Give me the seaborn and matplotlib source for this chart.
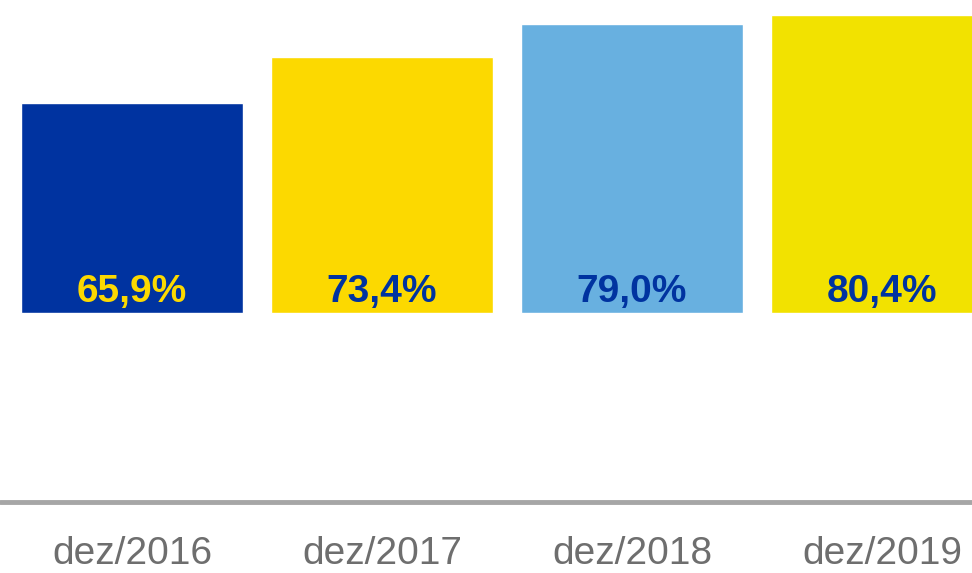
import numpy as np
import pandas as pd
import matplotlib
matplotlib.use("Agg")
import matplotlib.pyplot as plt
import seaborn as sns

# data
periods = ["dez/2016", "dez/2017", "dez/2018", "dez/2019"]
values = [65.9, 73.4, 79.0, 80.4]
labels = ["65,9%", "73,4%", "79,0%", "80,4%"]
bar_colors = ["#0033a0", "#fcd900", "#68b0e0", "#f2e200"]
label_colors = ["#fcd900", "#0033a0", "#0033a0", "#0033a0"]

sns.set_style("white")
plt.rcParams["font.family"] = ["Liberation Sans", "DejaVu Sans"]

df = pd.DataFrame({"period": periods, "value": values})
base = 31.2  # bars float above the axis line
df["height"] = df["value"] - base

fig = plt.figure(figsize=(9.72, 5.73), dpi=100)
ax = fig.add_axes([0, 0, 1, 1])

sns.barplot(data=df, x="period", y="height", hue="period", palette=bar_colors,
            width=0.89, bottom=base, legend=False, ax=ax, saturation=1)

for i, (lab, c) in enumerate(zip(labels, label_colors)):
    ax.text(i, base + 3.4, lab, ha="center", va="center", color=c,
            fontsize=28, fontweight="bold")

ax.axhline(0, color="#a6a6a6", lw=3.5)

# category labels sit under the line, close to the lower edge
for i, p in enumerate(periods):
    ax.text(i, -8.6, p, ha="center", va="center", color="#6e6e6e", fontsize=28)

ax.set_xlim(-0.528, 3.36)
ax.set_ylim(-11.72, 82.88)
ax.axis("off")

fig.savefig("out.png", dpi=100)
